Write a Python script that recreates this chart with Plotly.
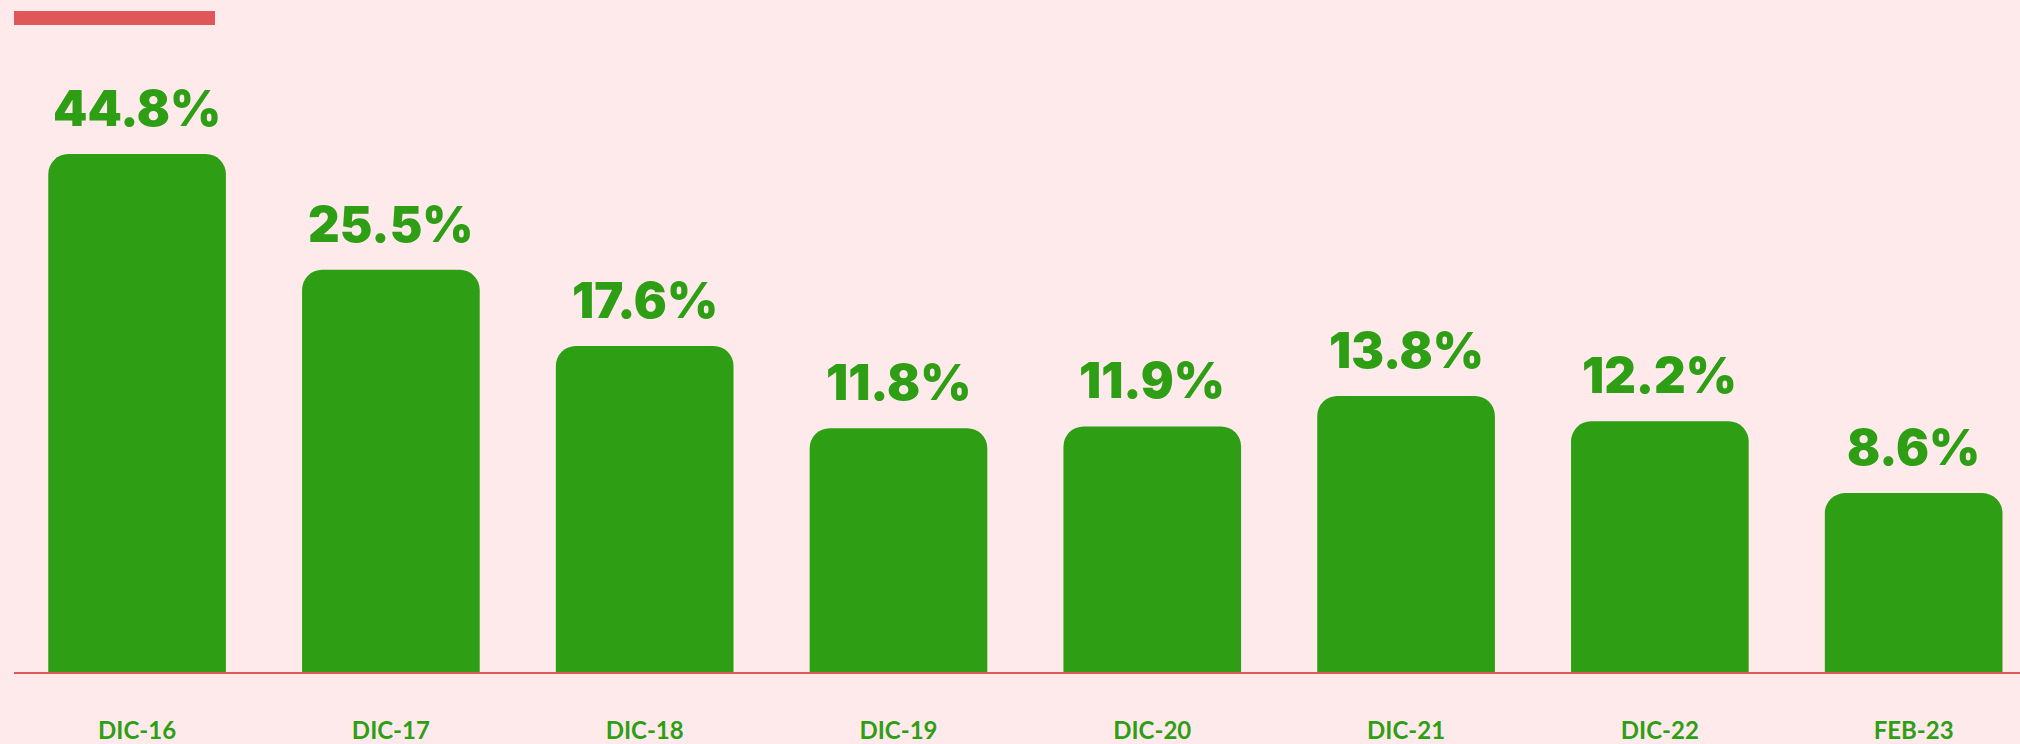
import math
import plotly.graph_objects as go

# Year-end (and latest) values, in percent
periods = ["DIC-16", "DIC-17", "DIC-18", "DIC-19", "DIC-20", "DIC-21", "DIC-22", "FEB-23"]
values = [44.8, 25.5, 17.6, 11.8, 11.9, 13.8, 12.2, 8.6]
value_labels = ["44.8%", "25.5%", "17.6%", "11.8%", "11.9%", "13.8%", "12.2%", "8.6%"]

BG = "#ffeaeb"
GREEN = "#2e9e14"
RED = "#e0575a"

W, H = 2020, 744
plot_top, plot_bottom = 0, 672
left, right = 14, 2020

# log scale so the smaller values stay readable
y_lo = math.log10(3.6)
px_per_decade = 473
y_hi = y_lo + (plot_bottom - plot_top) / px_per_decade

fig = go.Figure()
fig.add_trace(go.Bar(
    x=list(range(len(periods))),
    y=values,
    marker=dict(color=GREEN, line=dict(width=0)),
    width=0.70,
    hoverinfo="skip",
))

for i, (v, t) in enumerate(zip(values, value_labels)):
    fig.add_annotation(
        x=i, y=math.log10(v), xref="x", yref="y",
        text=t, showarrow=False, yanchor="bottom", yshift=14,
        font=dict(family="Inter", size=49, color=GREEN, weight=900),
    )

# short accent rule at the top left
fig.add_shape(
    type="rect", xref="paper", yref="paper",
    x0=0, x1=(215 - left) / (right - left),
    y0=1 - 25 / plot_bottom, y1=1 - 11 / plot_bottom,
    fillcolor=RED, line=dict(width=0), layer="above",
)

fig.update_layout(
    width=W, height=H,
    paper_bgcolor=BG, plot_bgcolor=BG,
    margin=dict(l=left, r=W - right, t=plot_top, b=H - plot_bottom, pad=0, autoexpand=False),
    showlegend=False,
    barcornerradius=20,
    xaxis=dict(
        range=[-0.485, 7.419], automargin=False,
        tickmode="array", tickvals=list(range(len(periods))), ticktext=periods,
        showgrid=False, zeroline=False,
        showline=True, linecolor=RED, linewidth=1.5,
        ticks="", ticklabelstandoff=36,
        tickfont=dict(family="Lato", size=24, color=GREEN, weight=700),
    ),
    yaxis=dict(
        type="log", range=[y_lo, y_hi], automargin=False,
        showgrid=False, zeroline=False, showline=False,
        showticklabels=False, ticks="",
    ),
)

fig.write_html("out.html")
